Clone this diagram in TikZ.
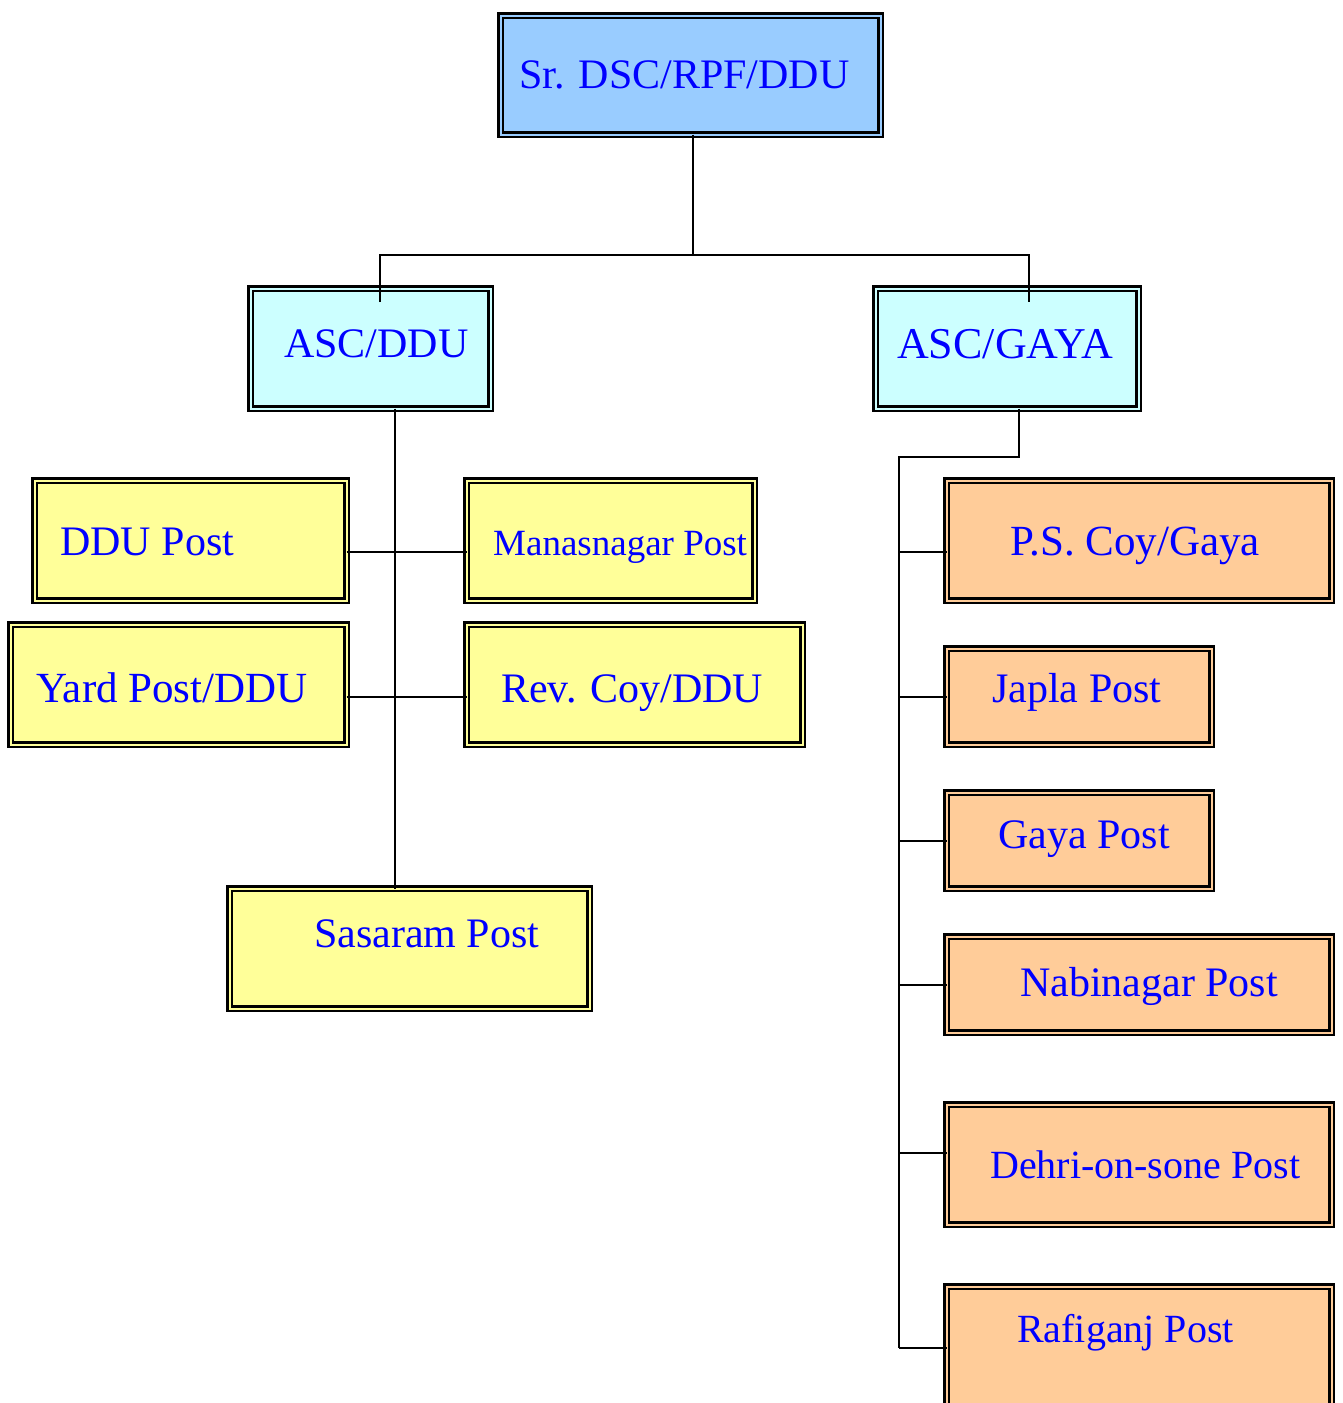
\documentclass[tikz,border=0pt]{standalone}
\usepackage{fontspec}
\setmainfont{Liberation Serif}
\definecolor{topblue}{HTML}{99CCFF}
\definecolor{asccyan}{HTML}{CCFFFF}
\definecolor{postyellow}{HTML}{FFFF99}
\definecolor{postpeach}{HTML}{FFCC99}
\definecolor{txtblue}{HTML}{0000FF}
\tikzset{
  orgbox/.style={rectangle, draw=black, line width=2.7pt, double distance=2pt, inner sep=0pt, outer sep=0pt},
  topbox/.style={orgbox, fill=topblue, double=topblue},
  ascbox/.style={orgbox, fill=asccyan, double=asccyan},
  ybox/.style={orgbox, fill=postyellow, double=postyellow},
  pbox/.style={orgbox, fill=postpeach, double=postpeach},
  lbl/.style={anchor=base west, inner sep=0pt, text=txtblue, font=\fontsize{42}{50}\selectfont},
  conn/.style={draw=black, line width=1.8pt}
}
\begin{document}
\begin{tikzpicture}[x=1pt,y=-1pt]
\useasboundingbox (0,0) rectangle (1342,1403);
\clip (0,0) rectangle (1342,1403);
\fill[white] (0,0) rectangle (1342,1403);

% boxes
\node[topbox, minimum width=380pt, minimum height=119pt] (top) at (690.5,75) {};
\node[ascbox, minimum width=240pt, minimum height=120pt] (ascddu) at (370.5,348.5) {};
\node[ascbox, minimum width=263pt, minimum height=120pt] (ascgaya) at (1007,348.5) {};
\node[ybox, minimum width=312pt, minimum height=120pt] (ddupost) at (190.5,540.5) {};
\node[ybox, minimum width=288pt, minimum height=120pt] (manas) at (610.5,540.5) {};
\node[ybox, minimum width=336pt, minimum height=120pt] (yard) at (178.5,684.5) {};
\node[ybox, minimum width=336pt, minimum height=120pt] (rev) at (634.5,684.5) {};
\node[ybox, minimum width=360pt, minimum height=120pt] (sasaram) at (409.5,948.5) {};
\node[pbox, minimum width=385pt, minimum height=120pt] (ps) at (1139,540.5) {};
\node[pbox, minimum width=265pt, minimum height=96pt] (japla) at (1079,696.5) {};
\node[pbox, minimum width=265pt, minimum height=96pt] (gaya) at (1079,840.5) {};
\node[pbox, minimum width=385pt, minimum height=96pt] (nabi) at (1139,984.5) {};
\node[pbox, minimum width=385pt, minimum height=120pt] (dehri) at (1139,1164.5) {};
\node[pbox, minimum width=385pt, minimum height=120pt] (rafi) at (1139,1346.5) {};

% texts
\node[lbl] (top-t) at (519,88) {Sr. DSC/RPF/DDU};
\node[lbl] (ascddu-t) at (284,357) {ASC/DDU};
\node[lbl, font=\fontsize{44}{52}\selectfont] (ascgaya-t) at (897,358) {ASC/GAYA};
\node[lbl] (ddupost-t) at (60,555) {DDU Post};
\node[lbl, font=\fontsize{37}{44}\selectfont] (manas-t) at (493,555) {Manasnagar Post};
\node[lbl, font=\fontsize{43}{51}\selectfont] (yard-t) at (36,702) {Yard Post/DDU};
\node[lbl] (rev-t) at (501,702) {Rev. Coy/DDU};
\node[lbl] (sasaram-t) at (314,947) {Sasaram Post};
\node[lbl, font=\fontsize{43}{51}\selectfont] (ps-t) at (1010,555) {P.S. Coy/Gaya};
\node[lbl] (japla-t) at (992,702) {Japla Post};
\node[lbl] (gaya-t) at (998,848) {Gaya Post};
\node[lbl] (nabi-t) at (1020,996) {Nabinagar Post};
\node[lbl, font=\fontsize{40}{48}\selectfont] (dehri-t) at (990,1178) {Dehri-on-sone Post};
\node[lbl, font=\fontsize{40}{48}\selectfont] (rafi-t) at (1017,1342) {Rafiganj Post};

% junction coordinates
\coordinate (jt) at (693,255);
\coordinate (jl) at (380,255);
\coordinate (jr) at (1029,255);
\coordinate (jlend) at (380,302);
\coordinate (jrend) at (1029,302);
\coordinate (d1) at (395,552);
\coordinate (d2) at (395,697);
\coordinate (g1) at (1019,457);
\coordinate (g2) at (899,457);
\coordinate (b1) at (899,552);
\coordinate (b2) at (899,697);
\coordinate (b3) at (899,841);
\coordinate (b4) at (899,985);
\coordinate (b5) at (899,1153);
\coordinate (b6) at (899,1348);

% connectors
\draw[conn] (top.south -| jt) -- (jt);
\draw[conn] (jlend) -- (jl) -- (jr) -- (jrend);
\draw[conn] (ascddu.south -| d1) -- (sasaram.north -| d1);
\draw[conn] (ddupost.east |- d1) -- (manas.west |- d1);
\draw[conn] (yard.east |- d2) -- (rev.west |- d2);
\draw[conn] (ascgaya.south -| g1) -- (g1) -- (g2) -- (b6);
\draw[conn] (b1) -- (ps.west |- b1);
\draw[conn] (b2) -- (japla.west |- b2);
\draw[conn] (b3) -- (gaya.west |- b3);
\draw[conn] (b4) -- (nabi.west |- b4);
\draw[conn] (b5) -- (dehri.west |- b5);
\draw[conn] (b6) -- (rafi.west |- b6);
\end{tikzpicture}
\end{document}
